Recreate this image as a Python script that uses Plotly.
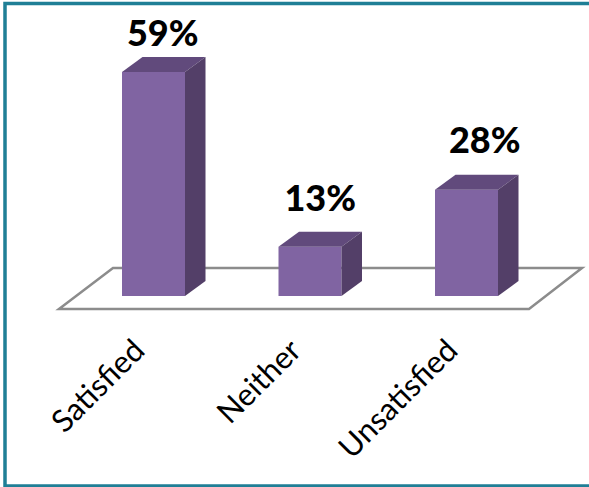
import plotly.graph_objects as go

categories = ["Satisfied", "Neither", "Unsatisfied"]
values = [59, 13, 28]
value_labels = ["59%", "13%", "28%"]
positions = [0, 1, 2]
label_nudge_x = [-1, 0, 8]    # pixels
label_nudge_y = [2, 12, 13]   # pixels above the bar's top

W, H = 589, 487
PX_X = 156.5          # pixels per category
PX_Y = 3.797          # pixels per percent
X0_PX, Y0_PX = 153.5, 296
PLOT_BOTTOM = 325
BAR_W = 63 / PX_X
DX = 20.5 / PX_X
DY = 15 / PX_Y
FRONT = "#8064A2"
TOP = "#614A7C"
SIDE = "#533F68"
FLOOR = "#8C8C8C"
TEAL = "#1F7F96"


def fx(px):
    return (px - X0_PX) / PX_X


def fy(px):
    return (Y0_PX - px) / PX_Y


fig = go.Figure()
fig.add_trace(go.Bar(x=positions, y=values, width=BAR_W,
                     marker=dict(color=FRONT, line=dict(width=0)),
                     hoverinfo="skip", showlegend=False))

for p, v in zip(positions, values):
    l, r = p - BAR_W / 2, p + BAR_W / 2
    fig.add_trace(go.Scatter(x=[l, r, r + DX, l + DX, l], y=[v, v, v + DY, v + DY, v],
                             mode="lines", fill="toself", fillcolor=TOP,
                             line=dict(width=0, color=TOP), hoverinfo="skip", showlegend=False))
    fig.add_trace(go.Scatter(x=[r, r + DX, r + DX, r, r], y=[0, DY, v + DY, v, 0],
                             mode="lines", fill="toself", fillcolor=SIDE,
                             line=dict(width=0, color=SIDE), hoverinfo="skip", showlegend=False))

fig.add_trace(go.Scatter(
    x=[p + DX / 2 + n / PX_X for p, n in zip(positions, label_nudge_x)],
    y=[v + DY + n / PX_Y for v, n in zip(values, label_nudge_y)],
    mode="text", text=value_labels, textposition="top center",
    textfont=dict(family="Lato", size=36, color="#000000", weight=900),
    hoverinfo="skip", showlegend=False))

floor_path = "M {} {} L {} {} L {} {} L {} {} Z".format(
    fx(59), fy(309), fx(529), fy(309), fx(582), fy(268), fx(113), fy(268))
fig.add_shape(type="path", path=floor_path, xref="x", yref="y", layer="below",
              line=dict(color=FLOOR, width=2.5), fillcolor="rgba(0,0,0,0)")

# outer frame (open on the right, where the picture is cropped)
fig.add_shape(type="rect", xref="paper", yref="paper",
              x0=5 / W, x1=1.02, y0=(PLOT_BOTTOM - 486) / PLOT_BOTTOM, y1=1 - 3.5 / PLOT_BOTTOM,
              line=dict(color=TEAL, width=3.5), fillcolor="rgba(0,0,0,0)", layer="above")

fig.update_layout(
    width=W, height=H, autosize=False,
    margin=dict(l=0, r=0, t=0, b=H - PLOT_BOTTOM, pad=0),
    paper_bgcolor="#FFFFFF", plot_bgcolor="rgba(0,0,0,0)",
    xaxis=dict(range=[fx(0), fx(W)], tickmode="array", tickvals=positions, ticktext=categories,
               tickangle=-45, ticks="", showgrid=False, zeroline=False, showline=False,
               automargin=False, fixedrange=True, ticklabelshift=-18,
               tickfont=dict(family="Lato", size=31, color="#000000")),
    yaxis=dict(range=[fy(PLOT_BOTTOM), fy(0)], visible=False, showgrid=False, zeroline=False,
               automargin=False, fixedrange=True),
)

fig.write_html("out.html", config=dict(displayModeBar=False),
               post_script="document.body.style.margin='0';document.documentElement.style.overflow='hidden';")
